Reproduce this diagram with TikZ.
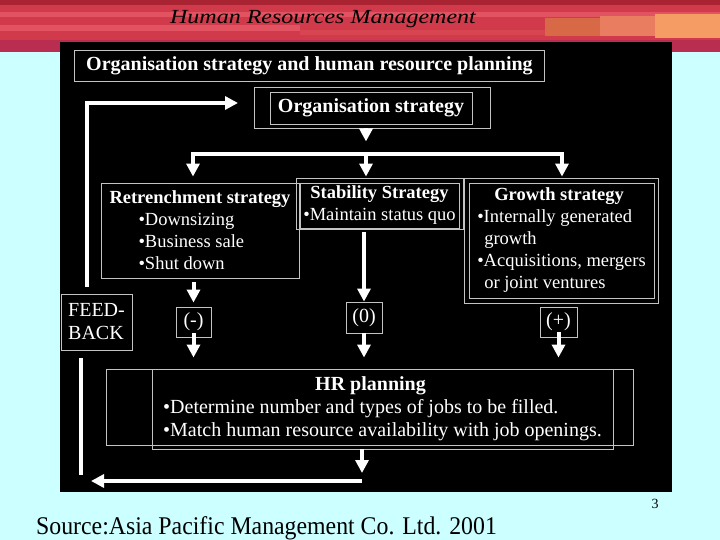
\documentclass[tikz,border=0pt]{standalone}
\usepackage{fontspec}
\setmainfont{Liberation Serif}
\usetikzlibrary{arrows.meta}
\definecolor{slidebg}{RGB}{204,255,255}
\definecolor{bandred}{RGB}{208,58,74}
\definecolor{bandA}{RGB}{170,35,50}
\definecolor{bandB}{RGB}{226,82,96}
\definecolor{bandC}{RGB}{215,70,80}
\definecolor{bandD}{RGB}{185,45,80}
\definecolor{bandE}{RGB}{215,105,70}
\definecolor{bandF}{RGB}{232,125,95}
\definecolor{bandG}{RGB}{245,155,100}
\definecolor{boxgray}{RGB}{195,195,195}

\begin{document}
\begin{tikzpicture}[x=1pt,y=-1pt,
		box/.style={draw=boxgray, line width=.9pt, text=white, inner sep=0pt},
		flow/.style={draw=white, line width=4pt, -{Triangle[width=13pt,length=13pt]}},
		bigtxt/.style={font=\fontsize{20}{23}\selectfont},
		bigbold/.style={font=\fontsize{20}{23}\selectfont\bfseries},
		smalltxt/.style={font=\fontsize{18.5}{22}\selectfont}]
		\useasboundingbox (0,0) rectangle (720,540);
		\fill[slidebg] (0,0) rectangle (720,540);
		\fill[bandred] (0,0) rectangle (720,52);
		\foreach \xa/\ya/\xb/\yb/\c in {0/0/720/5/bandA, 0/12/720/17/bandB, 0/25/300/31/bandB, 300/30/720/35/bandC, 0/40/720/52/bandD, 545/18/600/36/bandE, 600/16/655/36/bandF, 655/14/720/38/bandG}
			\fill[\c] (\xa,\ya) rectangle (\xb,\yb);
		\node[font=\fontsize{20}{20}\itshape] (title) at (323,19) {\scalebox{1.2}[1]{Human Resources Management}};
		\fill[black] (60,42) rectangle (672,492);
		
		\node[box, bigbold, minimum width=470pt, minimum height=31pt] (main) at (309.5,66) {Organisation strategy and human resource planning};
		\node[box, minimum width=236pt, minimum height=41pt] (orgout) at (372,107.5) {};
		\node[box, bigbold, minimum width=202pt, minimum height=32pt] (org) at (371,108) {Organisation strategy};
		
		\node[box, smalltxt, align=left, minimum width=198pt, minimum height=95pt] (retr) at (200,230.5) {\textbf{Retrenchment strategy}\\ \hspace*{29pt}•Downsizing\\ \hspace*{29pt}•Business sale\\ \hspace*{29pt}•Shut down};
		\node[box, minimum width=167pt, minimum height=51pt] (stabout) at (379.5,203.5) {};
		\node[box, smalltxt, align=center, minimum width=159pt, minimum height=45pt] (stab) at (379.5,205.5) {\textbf{Stability Strategy}\\•Maintain status quo};
		\node[box, minimum width=194pt, minimum height=125pt] (growout) at (561,240.5) {};
		\node[box, smalltxt, align=left, minimum width=185pt, minimum height=115pt] (grow) at (561.5,240.5) {\hspace*{17pt}\textbf{Growth strategy}\\•Internally generated\\ \hspace*{7pt}growth\\•Acquisitions, mergers\\ \hspace*{7pt}or joint ventures};
		
		\node[box, bigtxt, align=left, minimum width=71pt, minimum height=56pt] (fb) at (96.5,322) {FEED-\\BACK};
		\node[box, bigtxt, minimum width=35pt, minimum height=30pt] (minus) at (193.5,322) {(-)};
		\node[box, bigtxt, minimum width=36pt, minimum height=31pt] (zero) at (364,317.5) {(0)};
		\node[box, bigtxt, minimum width=37pt, minimum height=30pt] (plus) at (558.5,322) {(+)};
		
		\node[box, minimum width=527pt, minimum height=76pt] (hrA) at (369.5,407) {};
		\node[box, bigtxt, align=left, minimum width=461pt, minimum height=80pt] (hrB) at (382.5,409) {\hspace*{152pt}\textbf{HR planning}\\•Determine number and types of jobs to be filled.\\•Match human resource availability with job openings.};
		
		\coordinate (split) at (366,154); \coordinate (barL) at (193,154); \coordinate (barR) at (562,154);
		\coordinate (fbUp) at (87,287); \coordinate (fbIn) at (238,103);
		\coordinate (fbLow) at (80.5,358); \coordinate (fbEnd) at (80.5,475);
		\coordinate (hrOut) at (362,481); \coordinate (fbRet) at (91,481);
		
		\draw[flow, shorten >=1pt] (orgout.south -| split) -- ++(0,14);
		\draw[flow, shorten >=6pt] (split) -| (barL |- retr.north);
		\draw[flow, shorten >=1pt] (split) -| (barR |- growout.north);
		\draw[flow, shorten >=1pt] (split) -- (split |- stabout.north);
		
		\draw[flow, shorten <=4pt, shorten >=4pt] (retr.south -| minus) -- (minus.north);
		\draw[flow, shorten <=3pt] (stabout.south -| zero) -- (zero.north);
		\draw[flow, shorten >=11pt] ([yshift=4pt]minus.south) -- (minus.south |- hrA.north);
		\draw[flow, shorten >=11pt] (zero.south) -- (zero.south |- hrA.north);
		\draw[flow, shorten >=11pt] ([yshift=5pt]plus.south) -- (plus.south |- hrA.north);
		
		\draw[flow, shorten >=8pt] (hrB.south -| hrOut) -- (hrOut);
		\draw[flow] (hrOut) -- (fbRet);
		\draw[white, line width=4pt] (fbLow) -- (fbEnd);
		\draw[flow] (fbUp) |- (fbIn);
		
		\node[font=\fontsize{14}{14}\selectfont] (page) at (655,504) {3};
		\node[anchor=base west, inner sep=0pt, font=\fontsize{23.8}{24}\selectfont] (source) at (36,534) {\scalebox{1}[1.07]{Source:Asia Pacific Management Co. Ltd. 2001}};
\end{tikzpicture}
\end{document}
